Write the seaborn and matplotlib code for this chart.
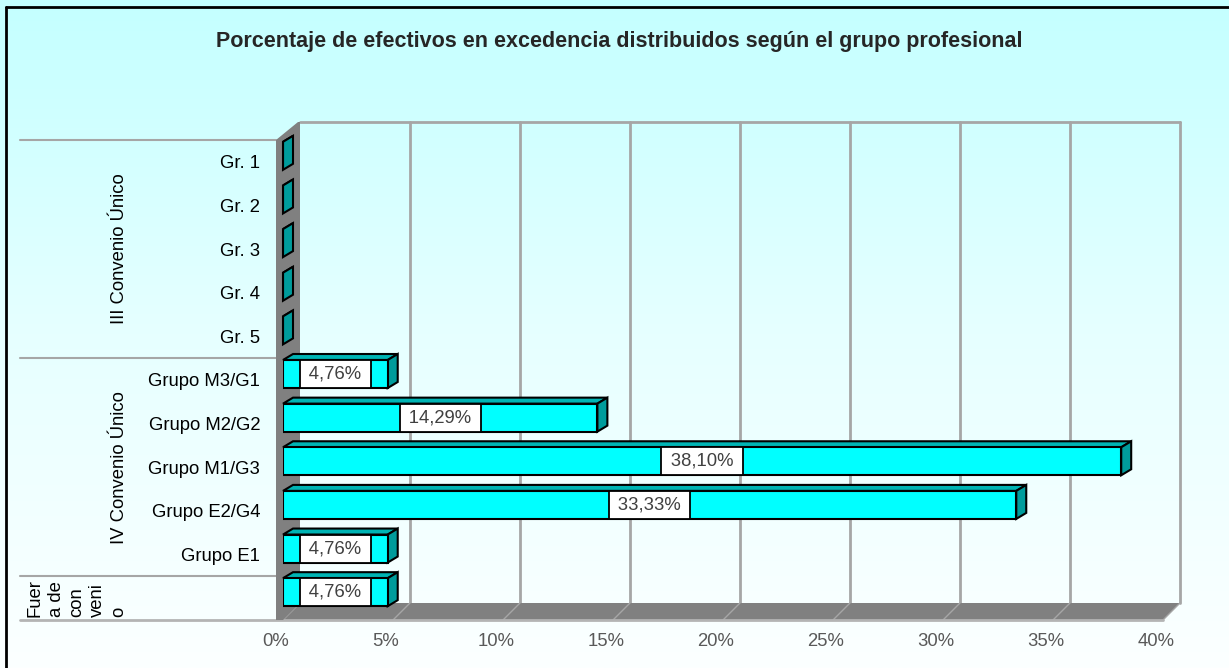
import numpy as np
import pandas as pd
import matplotlib
matplotlib.use("Agg")
import matplotlib.pyplot as plt
import seaborn as sns
from matplotlib.patches import Polygon
from matplotlib.lines import Line2D
from matplotlib.colors import LinearSegmentedColormap
from matplotlib.transforms import ScaledTranslation, IdentityTransform, blended_transform_factory

# ---------------- data ----------------
categories = ["Gr. 1", "Gr. 2", "Gr. 3", "Gr. 4", "Gr. 5",
              "Grupo M3/G1", "Grupo M2/G2", "Grupo M1/G3", "Grupo E2/G4", "Grupo E1",
              "Fuera de convenio"]
values = [0, 0, 0, 0, 0, 4.76, 14.29, 38.10, 33.33, 4.76, 4.76]
groups = ["III Convenio Único"] * 5 + ["IV Convenio Único"] * 5 + ["Fuera de convenio"]
x_ticks = [0, 5, 10, 15, 20, 25, 30, 35, 40]
x_tick_labels = ["0%", "5%", "10%", "15%", "20%", "25%", "30%", "35%", "40%"]
title = "Porcentaje de efectivos en excedencia distribuidos según el grupo profesional"

# ---------------- style ----------------
sns.set_theme(style="white")
plt.rcParams["font.family"] = ["Liberation Sans", "DejaVu Sans"]
FS = 13.3

W, H = 1229, 668
DPI = 100
fig = plt.figure(figsize=(W / DPI, H / DPI), dpi=DPI)

# background gradient
bg = fig.add_axes([0, 0, 1, 1], zorder=-10)
grad = np.linspace(0, 1, 256)[:, None]
cmap = LinearSegmentedColormap.from_list("bg", ["#C4FFFF", "#E6FFFF", "#FCFFFF"])
bg.imshow(grad, aspect="auto", cmap=cmap, extent=[0, 1, 0, 1])
bg.axis("off")

# main axes = front plane of the 3D box
ax = fig.add_axes([283 / W, (H - 620) / H, 880 / W, 480 / H])
ax.set_facecolor("none")

df = pd.DataFrame({"cat": categories, "val": values, "grp": groups})
sns.barplot(data=df, x="val", y="cat", orient="h", color="#00FFFF", saturation=1,
            width=28 / 43.64, edgecolor="black", linewidth=1.5, ax=ax, zorder=5)
ax.set_xlim(0, 40)
ax.set_ylim(len(categories) - 0.5, -0.5)
for s in ax.spines.values():
    s.set_visible(False)
ax.grid(False)
ax.set_xlabel("")
ax.set_ylabel("")

ident = IdentityTransform()
WD = 17       # wall depth (px)
BDX, BDY = 10, 6   # bar depth (px)
SHIFT = 6     # bar front face lifted (px)

def d(x, y):
    return ax.transData.transform((x, y))

x0, ytop = d(0, -0.5)
x40, yb = d(40, len(categories) - 0.5)

# back wall gridlines + border
for v in x_ticks[1:]:
    xv = d(v, 0)[0]
    ax.add_line(Line2D([xv + WD, xv + WD], [yb + WD, ytop + WD + 1], color="#A6A6A6", lw=2,
                       transform=ident, clip_on=False, zorder=1))
ax.add_line(Line2D([x0 + WD, x40 + WD], [ytop + WD + 1, ytop + WD + 1], color="#A6A6A6", lw=2,
                   transform=ident, clip_on=False, zorder=1))

# floor
ax.add_patch(Polygon([(x0, yb), (x40, yb), (x40 + WD, yb + WD), (x0 + WD, yb + WD)],
                     closed=True, fc="#808080", ec="none", transform=ident, clip_on=False, zorder=1))
for v in x_ticks:
    xv = d(v, 0)[0]
    ax.add_line(Line2D([xv, xv + WD], [yb, yb + WD], color="#A6A6A6", lw=1,
                       transform=ident, clip_on=False, zorder=1.5))
ax.add_line(Line2D([20, x40], [yb, yb], color="#B4B4B4", lw=2,
                   transform=ident, clip_on=False, zorder=1.5))

# left wall
ax.add_patch(Polygon([(x0 - 7, ytop), (x0 + WD - 2, ytop + WD + 1), (x0 + WD, ytop + WD + 1),
                      (x0 + WD, yb + WD), (x0, yb), (x0 - 7, yb)],
                     closed=True, fc="#808080", ec="none", transform=ident, clip_on=False, zorder=2))

# group separators
bounds = [-0.5]
for i in range(1, len(groups)):
    if groups[i] != groups[i - 1]:
        bounds.append(i - 0.5)
for b in bounds:
    yy = d(0, b)[1]
    ax.add_line(Line2D([20, x0 - 7], [yy, yy], color="#A6A6A6", lw=1.5,
                       transform=ident, clip_on=False, zorder=1))

# shift bars and add 3D faces
shift = ScaledTranslation(0, SHIFT / DPI, fig.dpi_scale_trans)
for p in list(ax.patches):
    if not hasattr(p, "get_width"):
        continue
    if p.get_zorder() != 5:
        continue
    bx, by, bw, bh = p.get_x(), p.get_y(), p.get_width(), p.get_height()
    pts = ax.transData.transform([(bx, by), (bx + bw, by + bh)])
    left, right = pts[:, 0].min(), pts[:, 0].max()
    bot, top = pts[:, 1].min() + SHIFT, pts[:, 1].max() + SHIFT
    p.set_transform(ax.transData + shift)
    ax.add_patch(Polygon([(left, top), (right, top), (right + BDX, top + BDY), (left + BDX, top + BDY)],
                         closed=True, fc="#00B4B4", ec="black", lw=1.5, transform=ident,
                         clip_on=False, zorder=4))
    ax.add_patch(Polygon([(right, bot), (right, top), (right + BDX, top + BDY), (right + BDX, bot + BDY)],
                         closed=True, fc="#009C9C", ec="black", lw=1.5, transform=ident,
                         clip_on=False, zorder=4))

# data labels
for i, v in enumerate(values):
    if v <= 0:
        continue
    txt = "\u2009" + f"{v:.2f}".replace(".", ",") + "%\u2009"
    ax.text(v / 2, i, txt, transform=ax.transData + shift, ha="center", va="center",
            fontsize=FS, color="#404040", zorder=7,
            bbox=dict(boxstyle="square,pad=0.3", fc="white", ec="black", lw=1.3))

# y tick labels (inner level)
ylabels = [c if g != c else "" for c, g in zip(categories, groups)]
ax.set_yticks(range(len(categories)))
ax.set_yticklabels(ylabels, fontsize=FS, color="black")
ax.tick_params(axis="y", length=0, pad=16.5)

# x tick labels
ax.set_xticks(x_ticks)
ax.set_xticklabels(x_tick_labels, fontsize=FS, color="#595959")
ax.tick_params(axis="x", length=0, pad=9)
xoff = ScaledTranslation(-7 / DPI, 0, fig.dpi_scale_trans)
for lab in ax.get_xticklabels():
    lab.set_transform(lab.get_transform() + xoff)

# group (outer level) labels
bt = blended_transform_factory(ident, ax.transData)
seen = []
for g in groups:
    if g not in seen:
        seen.append(g)
for g in seen:
    idx = [i for i, gg in enumerate(groups) if gg == g]
    if len(idx) > 1:
        ax.text(120, np.mean(idx), g, transform=bt, rotation=90, ha="center", va="center",
                fontsize=FS, color="black", clip_on=False)
    else:
        chunks = [g[k:k + 4].strip() for k in range(0, len(g), 4)]
        ax.text(77, yb + 3, "\n".join(chunks), transform=ident, rotation=90, ha="center",
                va="bottom", multialignment="left", linespacing=1.3, fontsize=FS,
                color="black", clip_on=False)

# title
fig.text(619 / W, 1 - 42 / H, title, ha="center", va="center", fontsize=15.5, fontweight="bold")

# outer border (left and top)
fig.add_artist(Line2D([6, 6], [0, H - 7], color="black", lw=2, transform=ident))
fig.add_artist(Line2D([6, W], [H - 7, H - 7], color="black", lw=2, transform=ident))

fig.savefig("out.png", dpi=DPI)
